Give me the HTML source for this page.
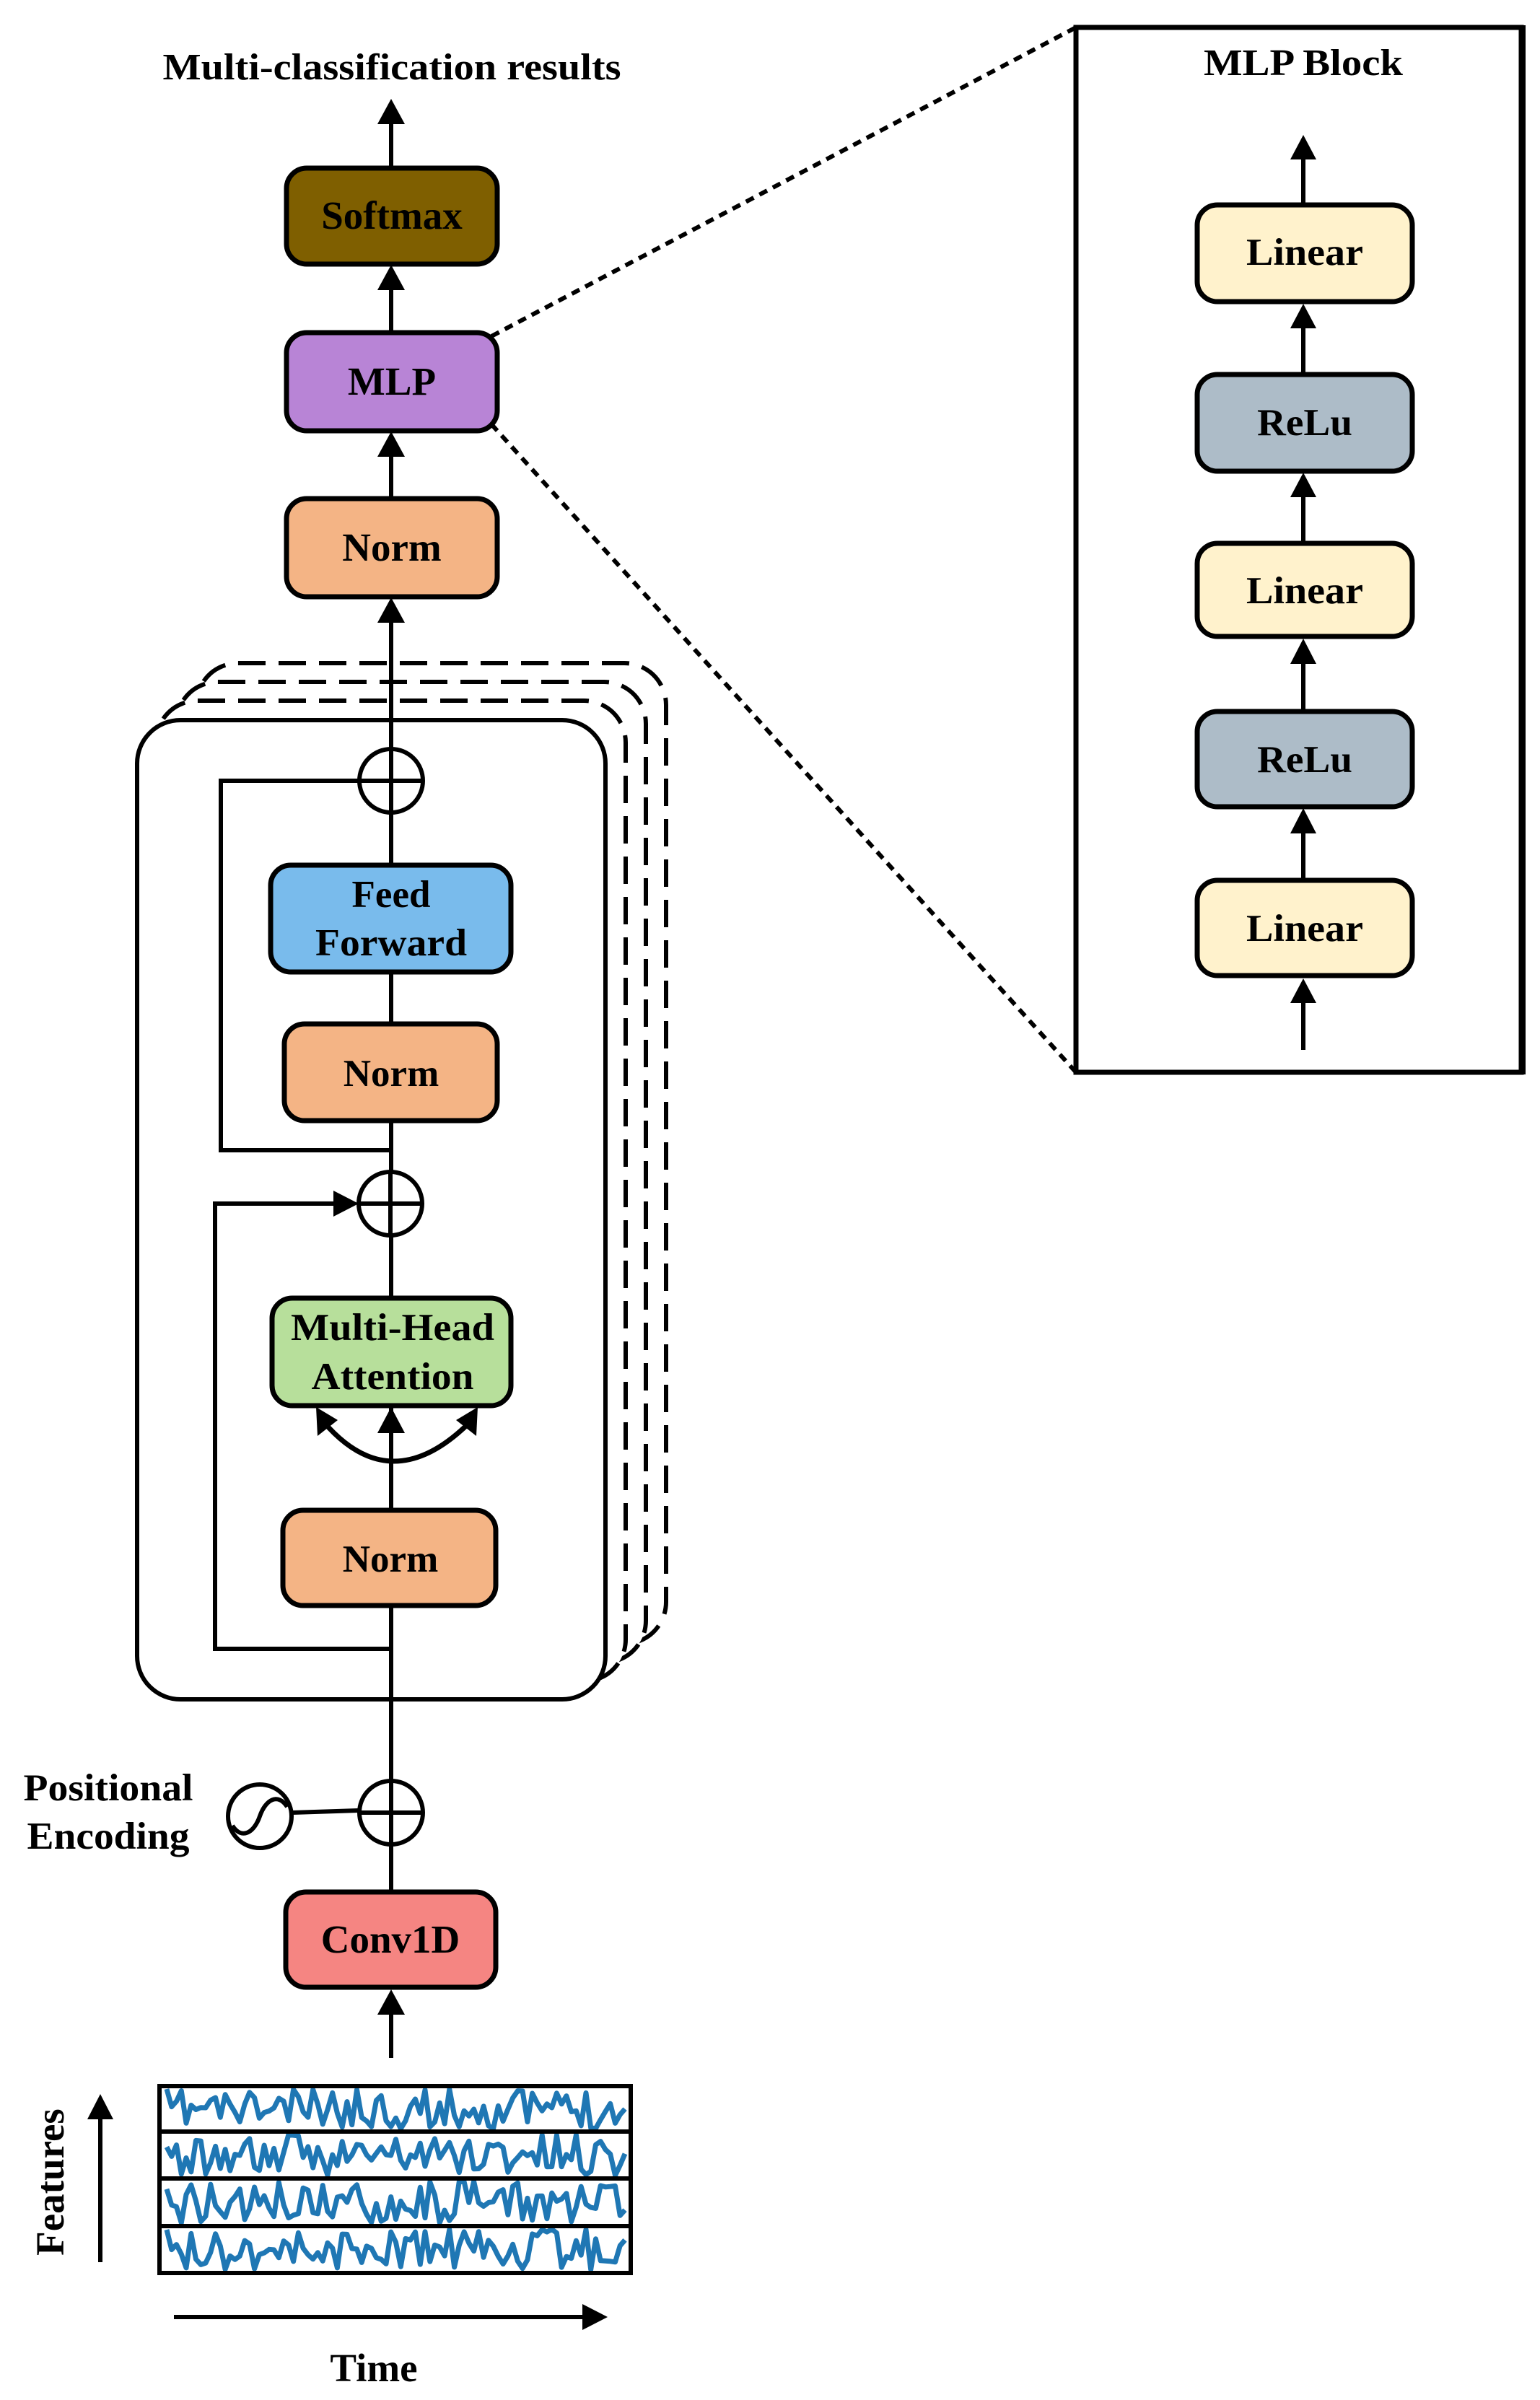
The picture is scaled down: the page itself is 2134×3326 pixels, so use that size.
<!DOCTYPE html>
<html><head><meta charset="utf-8"><style>
html,body{margin:0;padding:0;background:#fff}
svg{display:block}
text{font-family:"Liberation Serif",serif;font-weight:bold;fill:#000}
</style></head><body>
<svg id="s" width="2134" height="3326" viewBox="0 0 2134 3326" xmlns="http://www.w3.org/2000/svg">
<g stroke="#000" stroke-width="6" fill="none">
<rect x="272" y="919" width="651" height="1359" rx="58" fill="#fff" stroke-dasharray="38,18" stroke-width="6"/>
<rect x="244" y="945" width="651" height="1359" rx="58" fill="#fff" stroke-dasharray="38,18" stroke-width="6"/>
<rect x="216" y="971" width="651" height="1359" rx="58" fill="#fff" stroke-dasharray="38,18" stroke-width="6"/>
<rect x="190" y="998" width="649" height="1357" rx="60" fill="#fff"/>
<line x1="542" y1="863" x2="542" y2="2620" stroke-width="6"/>
<line x1="542" y1="170" x2="542" y2="231" stroke-width="6"/>
<line x1="542" y1="400" x2="542" y2="459" stroke-width="6"/>
<line x1="542" y1="631" x2="542" y2="689" stroke-width="6"/>
<polyline points="498,1082 306,1082 306,1594 542,1594" stroke-width="6"/>
<polyline points="542,2285 298,2285 298,1668 470,1668" stroke-width="6"/>
<circle cx="542" cy="1082" r="44" fill="#fff" stroke-width="6"/>
<line x1="498" y1="1082" x2="586" y2="1082" stroke-width="6"/>
<line x1="542" y1="1038" x2="542" y2="1126" stroke-width="6"/>
<circle cx="541" cy="1668" r="44" fill="#fff" stroke-width="6"/>
<line x1="497" y1="1668" x2="585" y2="1668" stroke-width="6"/>
<line x1="541" y1="1624" x2="541" y2="1712" stroke-width="6"/>
<circle cx="542" cy="2512" r="44" fill="#fff" stroke-width="6"/>
<line x1="498" y1="2512" x2="586" y2="2512" stroke-width="6"/>
<line x1="542" y1="2468" x2="542" y2="2556" stroke-width="6"/>
<line x1="405" y1="2512" x2="497" y2="2509" stroke-width="6"/>
<circle cx="360" cy="2517" r="44" fill="#fff" stroke-width="6"/>
<path d="M322,2530 C335,2550 352,2540 360,2517 C368,2494 385,2484 398,2504" stroke-width="6"/>
<path d="M448,1970 Q542,2080 652,1970" stroke-width="7"/>
<line x1="542" y1="1985" x2="542" y2="2091" stroke-width="6"/>
<rect x="397" y="233" width="292" height="133" rx="28" fill="#7F5F00" stroke-width="7"/>
<rect x="397" y="461" width="292" height="136" rx="28" fill="#B884D6" stroke-width="7"/>
<rect x="397" y="691" width="292" height="136" rx="28" fill="#F4B485" stroke-width="7"/>
<rect x="375" y="1199" width="333" height="148" rx="28" fill="#79BBEC" stroke-width="7"/>
<rect x="394" y="1419" width="295" height="134" rx="28" fill="#F4B485" stroke-width="7"/>
<rect x="377" y="1799" width="331" height="149" rx="28" fill="#B7DF9B" stroke-width="7"/>
<rect x="392" y="2093" width="295" height="132" rx="28" fill="#F4B485" stroke-width="7"/>
<rect x="396" y="2622" width="291" height="132" rx="28" fill="#F58582" stroke-width="7"/>
<line x1="542" y1="2790" x2="542" y2="2852" stroke-width="6"/>
<rect x="1491" y="38" width="620" height="1448" fill="#fff"/>
<line x1="681" y1="466" x2="1491" y2="38" stroke-width="6" stroke-dasharray="12,9"/>
<line x1="681" y1="588" x2="1491" y2="1486" stroke-width="6" stroke-dasharray="12,9"/>
<line x1="1806" y1="218" x2="1806" y2="282" stroke-width="6"/>
<line x1="1806" y1="453" x2="1806" y2="517" stroke-width="6"/>
<line x1="1806" y1="687" x2="1806" y2="751" stroke-width="6"/>
<line x1="1806" y1="918" x2="1806" y2="984" stroke-width="6"/>
<line x1="1806" y1="1153" x2="1806" y2="1218" stroke-width="6"/>
<line x1="1806" y1="1388" x2="1806" y2="1455" stroke-width="6"/>
<rect x="1659" y="284" width="298" height="134" rx="28" fill="#FFF2CC" stroke-width="7"/>
<rect x="1659" y="519" width="298" height="134" rx="28" fill="#ADBCC8" stroke-width="7"/>
<rect x="1659" y="753" width="298" height="129" rx="28" fill="#FFF2CC" stroke-width="7"/>
<rect x="1659" y="986" width="298" height="132" rx="28" fill="#ADBCC8" stroke-width="7"/>
<rect x="1659" y="1220" width="298" height="132" rx="28" fill="#FFF2CC" stroke-width="7"/>
<g id="sig" stroke="#1F77B4" stroke-width="7" stroke-linejoin="round"></g>
<rect x="221" y="2891" width="653" height="259" stroke-width="6"/>
<line x1="221" y1="2954" x2="874" y2="2954" stroke-width="6"/>
<line x1="221" y1="3019" x2="874" y2="3019" stroke-width="6"/>
<line x1="221" y1="3085" x2="874" y2="3085" stroke-width="6"/>
<line x1="139" y1="3135" x2="139" y2="2935" stroke-width="6"/>
<line x1="241" y1="3211" x2="810" y2="3211" stroke-width="6"/>
</g>
<g fill="#000">
<polygon points="542,137 523,172 561,172"/>
<polygon points="542,367 523,402 561,402"/>
<polygon points="542,598 523,633 561,633"/>
<polygon points="542,828 523,863 561,863"/>
<polygon points="542,1950 523,1986 561,1986"/>
<polygon points="542,2757 523,2792 561,2792"/>
<polygon points="497,1668 462,1650 462,1686"/>
<polygon points="438,1950 440,1990 468,1968"/>
<polygon points="662,1950 660,1990 632,1968"/>
<polygon points="139,2902 121,2937 157,2937"/>
<polygon points="842,3211 807,3193 807,3229"/>
<polygon points="1806,187 1788,221 1824,221"/>
<polygon points="1806,421 1788,455 1824,455"/>
<polygon points="1806,655 1788,689 1824,689"/>
<polygon points="1806,885 1788,920 1824,920"/>
<polygon points="1806,1120 1788,1155 1824,1155"/>
<polygon points="1806,1356 1788,1390 1824,1390"/>
</g>
<rect x="1491" y="38" width="617" height="1448" fill="none" stroke="#000" stroke-width="7"/>
<text x="543" y="110" font-size="52" text-anchor="middle" textLength="635" lengthAdjust="spacingAndGlyphs">Multi-classification results</text>
<text x="543" y="317" font-size="55" text-anchor="middle">Softmax</text>
<text x="543" y="547" font-size="55" text-anchor="middle">MLP</text>
<text x="543" y="777" font-size="55" text-anchor="middle">Norm</text>
<text x="542" y="1257" font-size="53" text-anchor="middle">Feed</text>
<text x="542" y="1324" font-size="53" text-anchor="middle" textLength="210" lengthAdjust="spacingAndGlyphs">Forward</text>
<text x="542" y="1505" font-size="53" text-anchor="middle">Norm</text>
<text x="544" y="1857" font-size="53" text-anchor="middle" textLength="282" lengthAdjust="spacingAndGlyphs">Multi-Head</text>
<text x="544" y="1925" font-size="53" text-anchor="middle" textLength="225" lengthAdjust="spacingAndGlyphs">Attention</text>
<text x="541" y="2178" font-size="53" text-anchor="middle">Norm</text>
<text x="541" y="2706" font-size="55" text-anchor="middle">Conv1D</text>
<text x="150" y="2495" font-size="53" text-anchor="middle" textLength="235" lengthAdjust="spacingAndGlyphs">Positional</text>
<text x="150" y="2562" font-size="53" text-anchor="middle" textLength="225" lengthAdjust="spacingAndGlyphs">Encoding</text>
<text x="1806" y="104" font-size="52" text-anchor="middle" textLength="276" lengthAdjust="spacingAndGlyphs">MLP Block</text>
<text x="1808" y="367" font-size="53" text-anchor="middle" textLength="162" lengthAdjust="spacingAndGlyphs">Linear</text>
<text x="1808" y="603" font-size="53" text-anchor="middle" textLength="132" lengthAdjust="spacingAndGlyphs">ReLu</text>
<text x="1808" y="836" font-size="53" text-anchor="middle" textLength="162" lengthAdjust="spacingAndGlyphs">Linear</text>
<text x="1808" y="1070" font-size="53" text-anchor="middle" textLength="132" lengthAdjust="spacingAndGlyphs">ReLu</text>
<text x="1808" y="1304" font-size="53" text-anchor="middle" textLength="162" lengthAdjust="spacingAndGlyphs">Linear</text>
<text x="518" y="3300" font-size="55" text-anchor="middle">Time</text>
<text x="0" y="0" font-size="55" text-anchor="middle" transform="translate(88,3024) rotate(-90)">Features</text>
</svg>
<script>
(function(){
var seed=11;function r(){seed=(seed*16807)%2147483647;return seed/2147483647;}
var g=document.getElementById('sig');
var rows=[[2891,2954],[2954,3019],[3019,3085],[3085,3150]];
rows.forEach(function(rw){
 var pts=[],n=95,x0=231,x1=866,top=rw[0]+4,bot=rw[1]-4;
 for(var i=0;i<n;i++){var x=x0+(x1-x0)*i/(n-1);var v=r();var y=top+(bot-top)*v;pts.push(x.toFixed(1)+','+y.toFixed(1));}
 var p=document.createElementNS('http://www.w3.org/2000/svg','polyline');
 p.setAttribute('points',pts.join(' '));g.appendChild(p);
});
})();
</script>
</body></html>
